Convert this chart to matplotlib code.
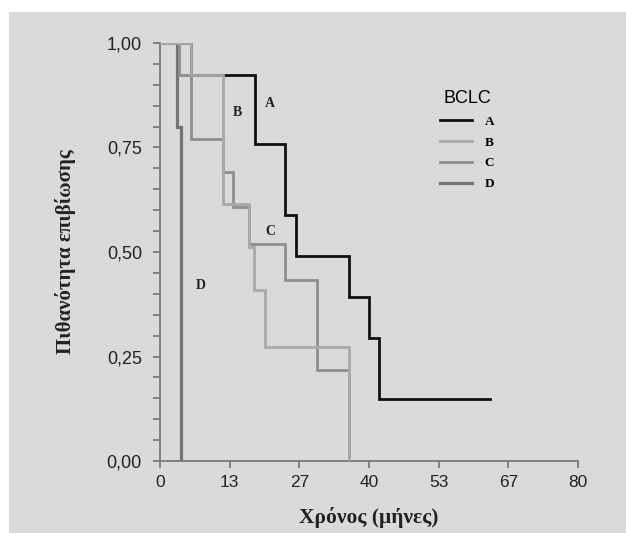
import numpy as np
import matplotlib
matplotlib.use("Agg")
import matplotlib.pyplot as plt
from matplotlib.patches import Rectangle
from matplotlib.lines import Line2D

# ---- data ----
groups = ["A", "B", "C", "D"]
times_A = [0, 6.0, 18.2, 23.9, 26.0, 36.2, 40.0, 42.0, 63.2]
surv_A = [1.0, 0.923, 0.758, 0.588, 0.490, 0.392, 0.295, 0.148, 0.148]
times_B = [0, 6.0, 12.0, 17.1, 17.9, 20.1, 36.2]
surv_B = [1.0, 0.923, 0.616, 0.513, 0.410, 0.273, 0.0]
times_C = [0, 3.7, 5.9, 12.0, 14.0, 17.1, 23.9, 30.0, 36.2]
surv_C = [1.0, 0.923, 0.770, 0.692, 0.608, 0.518, 0.433, 0.218, 0.0]
times_D = [0, 3.2, 4.0]
surv_D = [1.0, 0.80, 0.0]
xticks_vals = [0, 13.333, 26.667, 40, 53.333, 66.667, 80]
xtick_labels = ["0", "13", "27", "40", "53", "67", "80"]
yticks_major = [0.0, 0.25, 0.5, 0.75, 1.0]
ytick_labels = ["0,00", "0,25", "0,50", "0,75", "1,00"]
label_pos = {"A": (21.0, 0.856), "B": (14.9, 0.833), "C": (21.2, 0.55), "D": (7.8, 0.42)}

colors = {"A": "#111111", "B": "#a9a9a9", "C": "#8e8e8e", "D": "#757575"}
widths = {"A": 2.0, "B": 2.0, "C": 2.0, "D": 2.3}
zorders = {"A": 2, "D": 3, "C": 4, "B": 5}
series = {"A": (times_A, surv_A), "B": (times_B, surv_B),
          "C": (times_C, surv_C), "D": (times_D, surv_D)}

bg = "#d9dadc"
fig = plt.figure(figsize=(6.26, 5.33), dpi=100)
fig.patch.set_facecolor("white")
fig.patches.append(Rectangle((9 / 626, 0), 1, (533 - 12) / 533, transform=fig.transFigure,
                             facecolor=bg, edgecolor="none", zorder=-10))

ax = fig.add_axes([160 / 626, (533 - 461) / 533, 418 / 626, 418 / 533])
ax.set_facecolor("none")

for g in groups:
    t, s = series[g]
    ax.step(t, s, where="post", color=colors[g], lw=widths[g], zorder=zorders[g],
            solid_joinstyle="miter")
    ax.text(*label_pos[g], g, family="Liberation Serif", fontweight="bold",
            fontsize=10, ha="center", va="center", color="#222222")

ax.set_xlim(0, 80)
ax.set_ylim(0, 1.0)
for side in ["top", "right"]:
    ax.spines[side].set_visible(False)
for side in ["left", "bottom"]:
    ax.spines[side].set_color("#7a7a7a")
    ax.spines[side].set_linewidth(1.3)

ax.set_xticks(xticks_vals)
ax.set_xticklabels(xtick_labels, family="Liberation Sans", fontsize=12.5, color="#222222")
ax.set_yticks(yticks_major)
ax.set_yticklabels(ytick_labels, family="Liberation Sans", fontsize=13, color="#222222")
ax.set_yticks(np.arange(0, 1.0001, 0.05), minor=True)
ax.tick_params(which="both", direction="out", length=5, width=1.3, color="#7a7a7a")
ax.tick_params(axis="y", pad=8)
ax.tick_params(axis="x", pad=5)

ax.set_xlabel("Χρόνος (μήνες)", family="Liberation Serif", fontweight="bold",
              fontsize=15.5, labelpad=12, color="#222222")
ax.set_ylabel("Πιθανότητα επιβίωσης", family="Liberation Serif", fontweight="bold",
              fontsize=15, labelpad=22, color="#222222")

handles = [Line2D([], [], color=colors[g], lw=widths[g]) for g in groups]
leg = ax.legend(handles, groups, loc="upper left", bbox_to_anchor=(428 / 626, 1 - 78 / 533),
                bbox_transform=fig.transFigure, frameon=False, title="BCLC",
                prop={"family": "Liberation Serif", "weight": "bold", "size": 9.5},
                title_fontproperties={"family": "Liberation Sans", "size": 13},
                handlelength=2.4, labelspacing=0.65, handletextpad=1.0)
leg._legend_box.align = "center"

fig.savefig("out.png", dpi=100, facecolor=fig.get_facecolor())
